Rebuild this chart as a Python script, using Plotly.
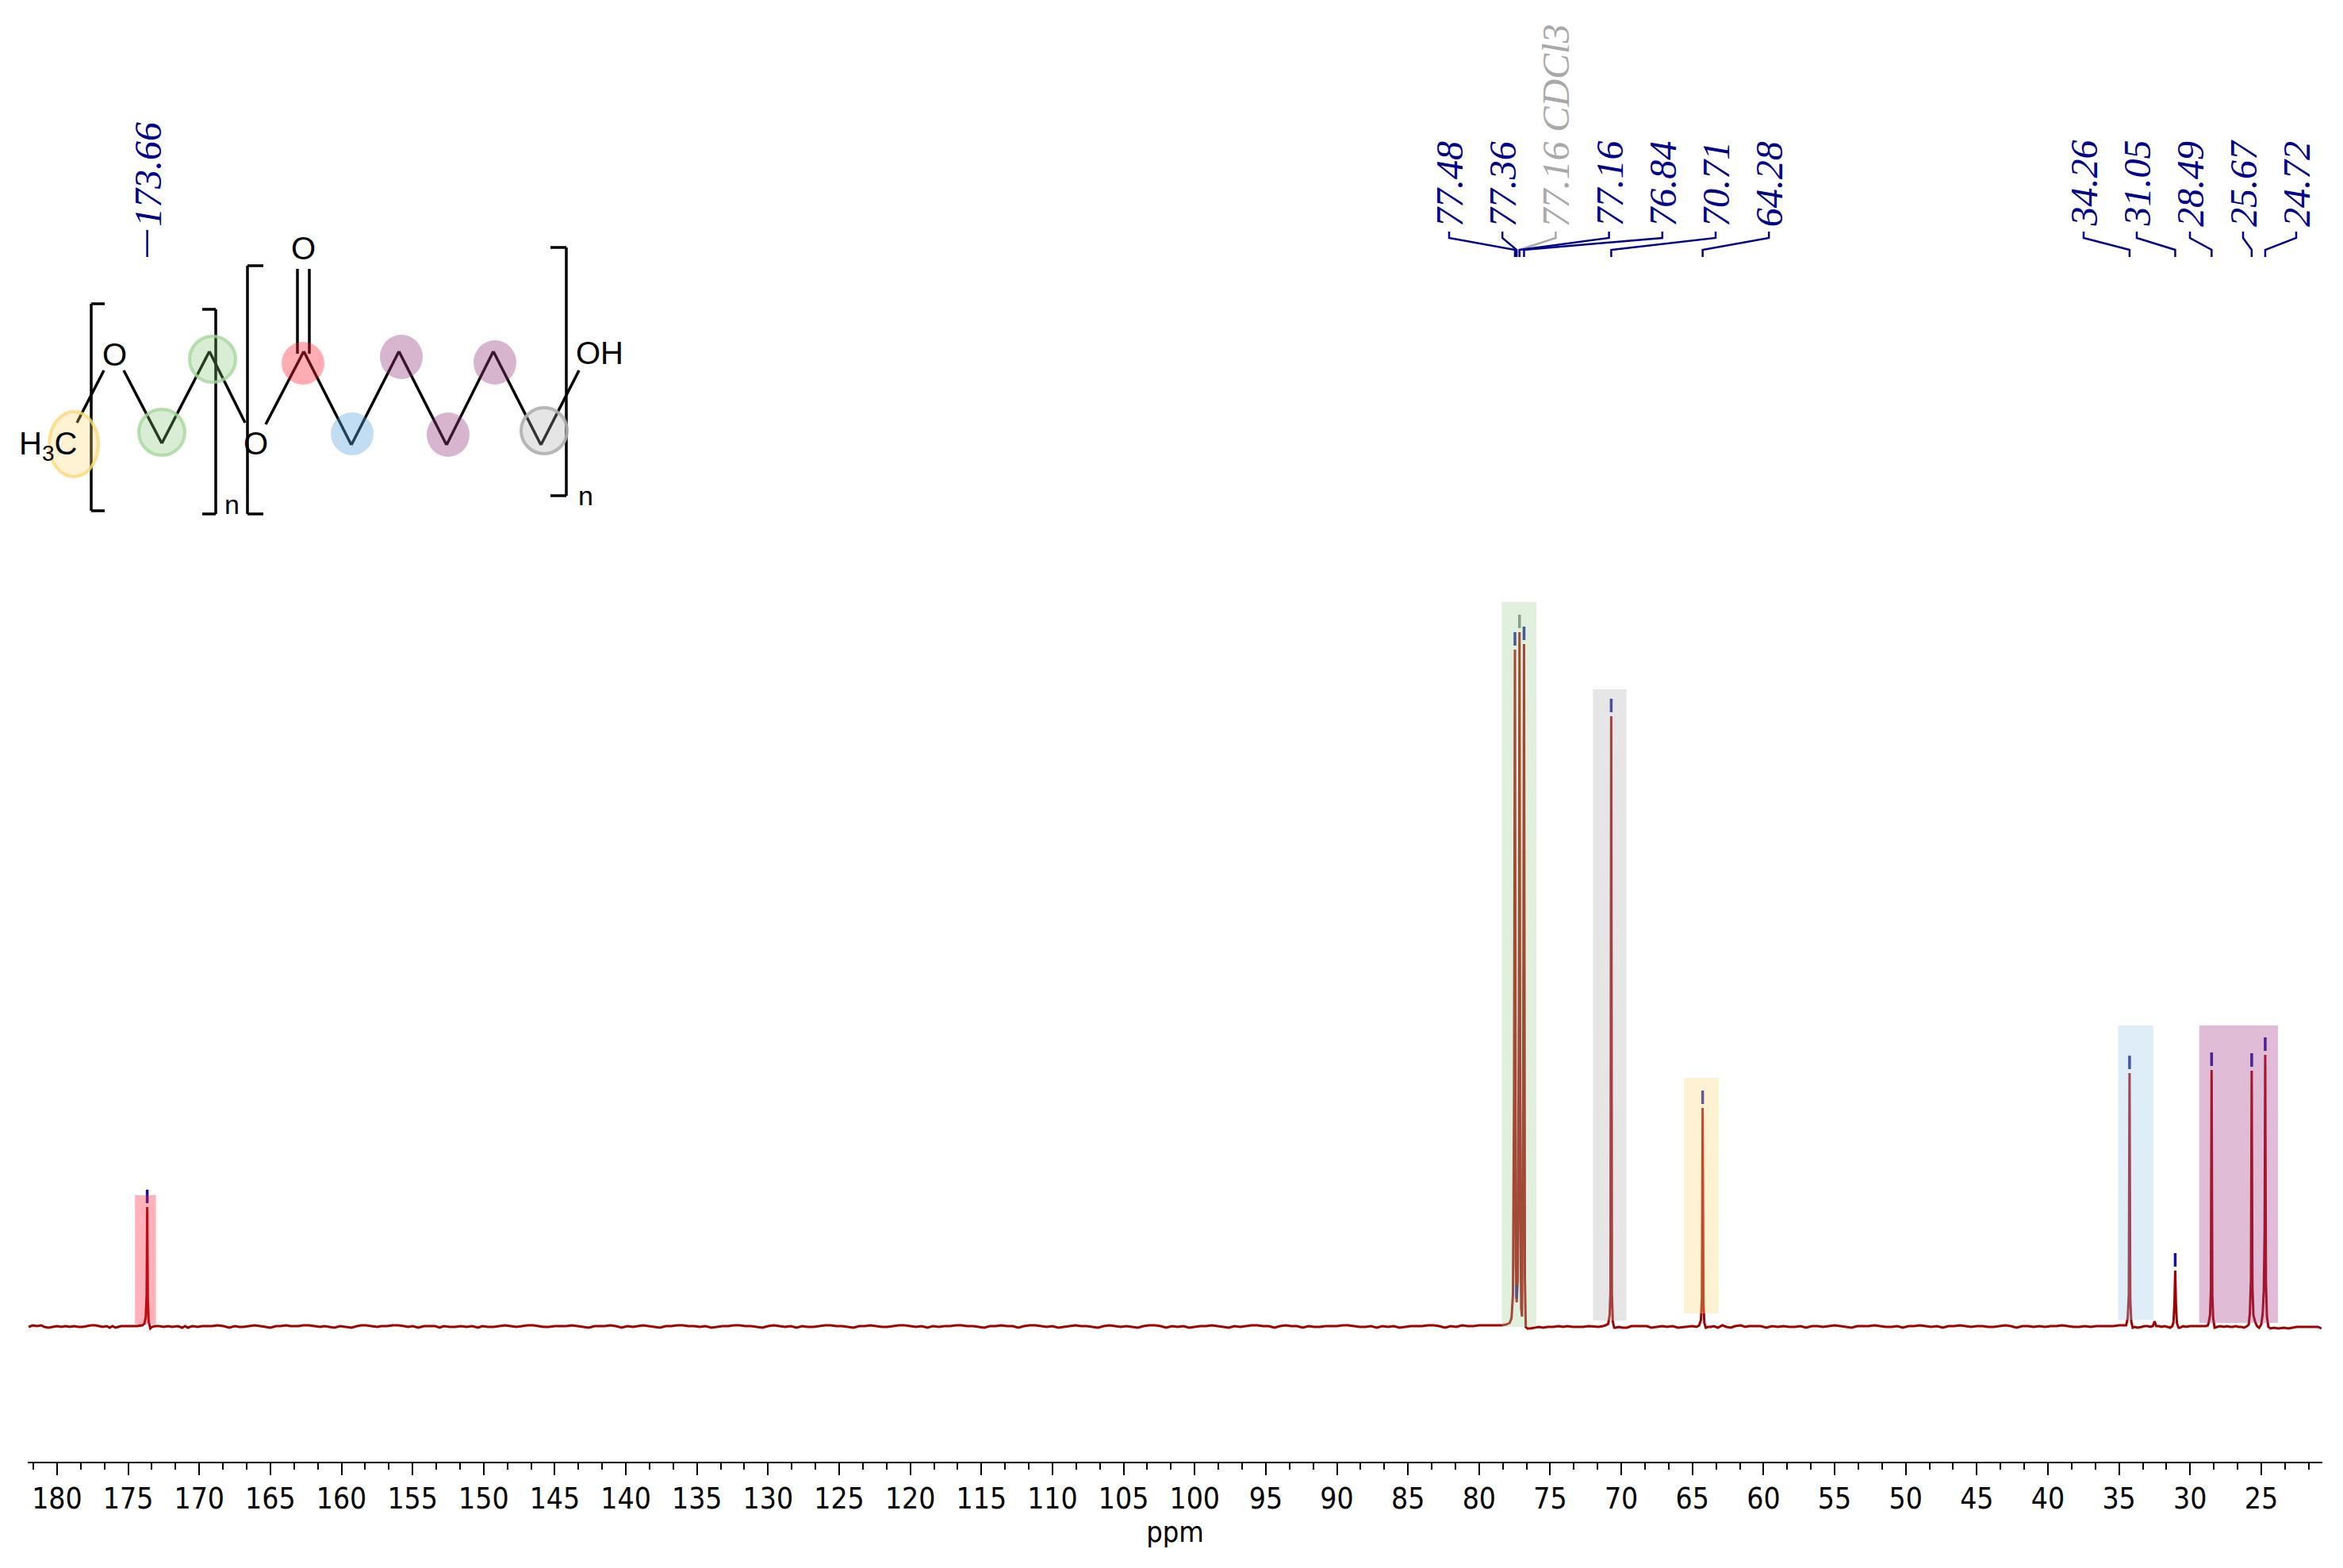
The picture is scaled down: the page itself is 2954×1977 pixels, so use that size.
import plotly.graph_objects as go

# spectrum pieces, ppm and intensity (1 unit = 1 px of the original)
base_a_ppm = [182.0, 181.7, 181.4, 181.1, 180.9, 180.6, 180.3, 180.0, 179.7, 179.4, 179.1, 178.8, 178.5, 178.2,
              177.9, 177.6, 177.3, 177.0, 176.8, 176.5, 176.3, 176.1, 175.9, 175.7, 175.5, 174.4, 174.0]
base_a_int = [-1, 1, 0, 1, -1, -2, -1, 0, -1, 0, -1, 0, -1, -1, 0, 1, 1, 0, -1, 0, -2, 0, -2, -1, 0, 0, 1]

peak_174_ppm = [173.86, 173.76, 173.70, 173.66, 173.62, 173.56, 173.44, 173.32]
peak_174_int = [3, 12, 40, 150, 35, 6, -3, -1]

base_b_ppm = [173.1, 172.8, 172.5, 172.2, 171.9, 171.5, 171.2, 171.0, 170.8, 170.5, 170.1, 169.8, 169.4, 169.1,
              168.7, 168.3, 167.9, 167.5, 167.2, 166.9, 166.5, 166.1, 165.7, 165.3, 165.0, 164.6, 164.3, 163.9,
              163.6, 163.3, 163.0, 162.7, 162.3, 161.9, 161.5, 161.2, 160.8, 160.5, 160.1, 159.7, 159.3, 158.9,
              158.6, 158.3, 157.9, 157.5, 157.2, 156.8, 156.4, 156.0, 155.6, 155.3, 155.0, 154.6, 154.2, 153.8,
              153.4, 153.1, 152.8, 152.4, 152.0, 151.6, 151.2, 150.8, 150.4, 150.1, 149.7, 149.3, 148.9, 148.5,
              148.1, 147.7, 147.3, 146.9, 146.5, 146.2, 145.8, 145.4, 145.0, 144.6, 144.2, 143.8, 143.4, 143.0,
              142.6, 142.2, 141.9, 141.5, 141.1, 140.7, 140.3, 139.9, 139.5, 139.2, 138.8, 138.4, 138.0, 137.6,
              137.2, 136.8, 136.4, 136.0, 135.6, 135.2, 134.8, 134.4, 134.0, 133.6, 133.2, 132.8, 132.4, 132.0,
              131.6, 131.2, 130.8, 130.4, 130.0, 129.6, 129.2, 128.8, 128.4, 128.0, 127.6, 127.2, 126.8, 126.4,
              126.0, 125.6, 125.2, 124.8, 124.4, 124.0, 123.6, 123.2, 122.8, 122.4, 122.0, 121.6, 121.2, 120.8,
              120.4, 120.0, 119.6, 119.2, 118.8, 118.4, 118.0, 117.6, 117.2, 116.8, 116.4, 116.0, 115.6, 115.2,
              114.8, 114.4, 114.0, 113.6, 113.2, 112.8, 112.4, 112.0, 111.6, 111.2, 110.8, 110.4, 110.0, 109.6,
              109.2, 108.8, 108.4, 108.0, 107.6, 107.2, 106.8, 106.4, 106.0, 105.6, 105.2, 104.8, 104.4, 104.0,
              103.6, 103.2, 102.8, 102.4, 102.0, 101.6, 101.2, 100.8, 100.4, 100.0, 99.6, 99.2, 98.8, 98.4,
              98.0, 97.6, 97.2, 96.8, 96.4, 96.0, 95.6, 95.2, 94.8, 94.4, 94.0, 93.6, 93.2, 92.8, 92.4, 92.0,
              91.6, 91.2, 90.8, 90.4, 90.0, 89.6, 89.2, 88.8, 88.4, 88.0, 87.6, 87.2, 86.8, 86.4, 86.0, 85.6,
              85.2, 84.8, 84.4, 84.0, 83.6, 83.2, 82.8, 82.4, 82.0, 81.6, 81.2, 80.8, 80.4, 80.0, 79.6, 79.2]
base_b_int = [0, 0, -1, 0, -1, 0, -2, 0, -2, 0, -1, 0, 0, 0, 1, 0, -2, 0, -1, -1, 0, 1, 0, -1, -2, 0, 0, 1,
              0, 0, 0, 1, 1, 0, -1, 0, -1, -2, 0, -1, -2, 0, 1, 1, 0, -1, 0, 0, 1, 1, 0, -1, 0, -2, 0, 0,
              0, -2, 0, -1, -1, 0, -1, 0, -2, 0, -1, -1, 0, 1, 0, -1, 0, 1, 1, 0, -1, -1, 0, 0, 0, 1, 0, -1,
              -2, 0, 0, 0, 1, 0, -2, 0, -1, 0, 1, 0, -1, -2, 0, 0, 1, 1, 0, 0, -1, 0, -2, -1, 0, 0, 1, 1,
              0, 0, -1, -2, 0, 1, 0, -1, 0, -2, 0, -1, -1, 0, 1, 1, 0, 0, -1, -2, 0, 0, 1, 0, -1, -1, 0, 1,
              1, 0, -1, 0, -2, 0, -1, 0, 0, 1, 1, 0, 0, -1, -2, 0, 0, 1, 0, 0, -2, 0, 1, 1, 0, -1, 0, -2,
              -1, 0, 1, 0, 0, -1, -2, 0, 1, 0, -1, 0, -1, -2, 0, 1, 1, 0, -2, 0, -1, 0, -2, -1, 0, 0, 1, 0,
              -1, -2, 0, -1, 0, 1, 1, 0, 0, -2, 0, 1, 0, 0, -2, 0, -1, -1, 0, 0, 0, 1, 1, 0, -1, -1, 0, -2,
              0, -1, 0, -2, -1, 0, 0, 0, 1, 1, 0, -2, 0, -1, 1, 0, 0, 1, 1, 1]

peak_77_ppm = [78.4, 78.1, 77.85, 77.72, 77.62, 77.54, 77.48, 77.42, 77.36, 77.28, 77.20, 77.16, 77.10, 77.04,
               76.98, 76.90, 76.84, 76.78, 76.72, 76.6, 76.4, 76.1]
peak_77_int = [1, 2, 4, 10, 40, 300, 853, 80, 30, 60, 400, 875, 150, 22, 12, 300, 860, 60, -1, -3, -3, -2]

base_c_ppm = [75.8, 75.5, 75.2, 74.8, 74.4, 74.1, 73.8, 73.4, 73.0, 72.7, 72.3, 71.9, 71.6, 71.3, 71.1]
base_c_int = [-1, -2, -1, -1, 0, -1, 0, -1, -1, -1, 0, -1, -1, 0, 1]

peak_71_ppm = [70.92, 70.82, 70.76, 70.71, 70.66, 70.60, 70.50, 70.40]
peak_71_int = [3, 14, 45, 769, 40, 6, -2, -2]

base_d_ppm = [70.2, 69.9, 69.6, 69.3, 69.0, 68.6, 68.2, 67.9, 67.5, 67.1, 66.8, 66.4, 66.0, 65.6, 65.3, 65.0, 64.7]
base_d_int = [-1, -2, -2, 0, 0, 0, 0, -2, -1, 0, -1, 0, -2, -1, 0, 0, -1]

peak_64_ppm = [64.52, 64.40, 64.33, 64.28, 64.23, 64.16, 64.06, 63.9]
peak_64_int = [1, 8, 35, 275, 30, 4, -2, -1]

base_e_ppm = [63.7, 63.5, 63.2, 62.9, 62.6, 62.3, 62.0, 61.6, 61.3, 61.0, 60.6, 60.2, 59.8, 59.4, 59.0, 58.6, 58.2,
              57.8, 57.4, 57.0, 56.6, 56.2, 55.8, 55.4, 55.0, 54.6, 54.2, 53.8, 53.4, 53.0, 52.6, 52.2, 51.8, 51.4,
              51.0, 50.6, 50.2, 49.8, 49.4, 49.0, 48.6, 48.2, 47.8, 47.4, 47.0, 46.6, 46.2, 45.8, 45.4, 45.0, 44.6,
              44.2, 43.8, 43.4, 43.0, 42.6, 42.2, 41.8, 41.4, 41.0, 40.6, 40.2, 39.8, 39.4, 39.0, 38.6, 38.2, 37.8,
              37.4, 37.0, 36.6, 36.2, 35.8, 35.4, 35.0, 34.7]
base_e_int = [-1, 0, -2, 1, -1, -2, 0, 1, -1, 0, 0, 0, -2, 0, -1, 0, -1, -1, 0, -2, 0, 0, -1, 0, 1, 0, -1, -2, 0, 0,
              0, 1, 0, -1, -1, 0, -2, 0, 0, 1, 0, -1, 0, -2, 0, 0, 1, 0, -1, 0, 0, -1, -1, 0, 1, 0, -2, 0, 0, -1, 0,
              -1, 0, 0, 1, 0, -1, -1, 0, -1, 0, 0, 0, 0, 1, 1]

peak_34_ppm = [34.50, 34.39, 34.31, 34.26, 34.21, 34.14, 34.04]
peak_34_int = [1, 10, 40, 319, 35, 6, -2]

base_f_ppm = [33.9, 33.7, 33.4, 33.2, 33.0, 32.8, 32.62, 32.5, 32.38, 32.2, 32.0, 31.8, 31.6, 31.4, 31.25]
base_f_int = [-1, -2, -1, 0, 0, -1, 0, 6, 0, 0, -1, 0, -1, -2, 0]

peak_31_ppm = [31.17, 31.10, 31.05, 31.00, 30.93, 30.82]
peak_31_int = [5, 30, 70, 28, 4, -2]

base_g_ppm = [30.7, 30.5, 30.3, 30.0, 29.7, 29.4, 29.1, 28.9, 28.75]
base_g_int = [-2, 0, -1, 0, 0, 0, 0, 0, 1]

peak_28_ppm = [28.70, 28.60, 28.54, 28.49, 28.44, 28.38, 28.28]
peak_28_int = [4, 14, 45, 323, 40, 10, -2]

base_h_ppm = [28.1, 27.9, 27.6, 27.4, 27.2, 27.0, 26.8, 26.6, 26.4, 26.2, 26.0, 25.88]
base_h_int = [-1, 0, -1, 0, -1, -1, 0, -1, -1, -2, 0, 2]

peak_25_ppm = [25.80, 25.72, 25.67, 25.62, 25.55, 25.44, 25.3, 25.15, 25.0, 24.9, 24.82, 24.76, 24.72, 24.67,
               24.60, 24.50, 24.35]
peak_25_int = [16, 60, 322, 50, 14, 6, 0, -2, 2, 15, 45, 120, 342, 55, 12, -1, -3]

base_i_ppm = [24.1, 23.8, 23.4, 23.1, 22.8, 22.5, 22.1, 21.7, 21.3, 21.0, 20.77]
base_i_int = [-2, -3, -2, -3, -2, -1, -1, -1, -1, -1, -3]

# assigned peaks with their printed labels
peak_ppm = [173.66, 77.48, 77.36, 76.84, 70.71, 64.28, 34.26, 31.05, 28.49, 25.67, 24.72]
peak_top = [150, 853, 30, 860, 769, 275, 319, 70, 323, 322, 342]
solvent_ppm = 77.16
solvent_top = 875

group_1_labels = ["77.48", "77.36", "77.16 CDCl3", "77.16", "76.84", "70.71", "64.28"]
group_1_ppm = [77.48, 77.36, 77.16, 77.16, 76.84, 70.71, 64.28]
group_2_labels = ["34.26", "31.05", "28.49", "25.67", "24.72"]
group_2_ppm = [34.26, 31.05, 28.49, 25.67, 24.72]

# coloured assignment bands, ppm edges and heights
band_left = [174.52, 78.40, 72.00, 65.60, 35.06, 29.36]
band_right = [173.05, 75.97, 69.64, 63.15, 32.59, 23.82]
band_top = [165, 913, 803, 313, 379, 379]
band_bottom = [2, -1, 7, 16, 8, 4]
band_colors = ['rgba(255,35,58,0.35)', 'rgba(166,213,155,0.35)', 'rgba(184,184,184,0.35)',
               'rgba(255,218,126,0.35)', 'rgba(161,203,235,0.35)', 'rgba(166,64,138,0.35)']

W, H = 2954, 1977
LEFT, RIGHT, AXIS_Y, BASE_Y = 35, 2928, 1843, 1672
NAVY = '#00008b'
GREY = '#a9a9a9'


def paper_x(px):
    return (px - LEFT) / (RIGHT - LEFT)


def paper_y(py):
    return 1 - py / AXIS_Y


def ppm_at(px):
    return 182.06 - (px - LEFT) * (182.06 - 20.7) / (RIGHT - LEFT)


spectrum_x = (base_a_ppm + peak_174_ppm + base_b_ppm + peak_77_ppm + base_c_ppm + peak_71_ppm + base_d_ppm
              + peak_64_ppm + base_e_ppm + peak_34_ppm + base_f_ppm + peak_31_ppm + base_g_ppm + peak_28_ppm
              + base_h_ppm + peak_25_ppm + base_i_ppm)
spectrum_y = (base_a_int + peak_174_int + base_b_int + peak_77_int + base_c_int + peak_71_int + base_d_int
              + peak_64_int + base_e_int + peak_34_int + base_f_int + peak_31_int + base_g_int + peak_28_int
              + base_h_int + peak_25_int + base_i_int)

fig = go.Figure()
fig.add_trace(go.Scatter(x=spectrum_x, y=spectrum_y, mode='lines', line=dict(color='#a00000', width=3),
                         hoverinfo='skip'))

# little picking ticks above each peak
tick_x, tick_y = [], []
for p, top in zip(peak_ppm, peak_top):
    tick_x += [p, p, None]
    tick_y += [top + 5, top + 22, None]
fig.add_trace(go.Scatter(x=tick_x, y=tick_y, mode='lines', line=dict(color='#14149a', width=3.5), hoverinfo='skip'))
fig.add_trace(go.Scatter(x=[solvent_ppm, solvent_ppm], y=[solvent_top + 5, solvent_top + 22], mode='lines',
                         line=dict(color='#808080', width=3.5), hoverinfo='skip'))


def add_label(text, px, color=NAVY):
    fig.add_annotation(text=text, xref='paper', yref='paper', x=paper_x(px), y=paper_y(287), textangle=-90,
                       xanchor='center', yanchor='bottom', showarrow=False, borderpad=0,
                       font=dict(family='Liberation Serif', size=48, color=color, style='italic'))


def add_leader(px, p, color=NAVY):
    # stub under the label, slanted run, stub down to the peak position
    fig.add_trace(go.Scatter(x=[ppm_at(px), ppm_at(px), p, p],
                             y=[BASE_Y - 292, BASE_Y - 300, BASE_Y - 315, BASE_Y - 324],
                             mode='lines', line=dict(color=color, width=2.5), hoverinfo='skip'))


for i, (label, p) in enumerate(zip(group_1_labels, group_1_ppm)):
    px = 1827 + i * 67.2
    color = GREY if 'CDCl3' in label else NAVY
    add_leader(px, p, color)
    add_label(label, px, color)

for i, (label, p) in enumerate(zip(group_2_labels, group_2_ppm)):
    px = 2627 + i * 67
    add_leader(px, p)
    add_label(label, px)

add_label("173.66", 186)
fig.add_trace(go.Scatter(x=[173.66, 173.66], y=[BASE_Y - 290, BASE_Y - 324], mode='lines',
                         line=dict(color=NAVY, width=2.5), hoverinfo='skip'))

for x0, x1, y0, y1, c in zip(band_left, band_right, band_bottom, band_top, band_colors):
    fig.add_shape(type='rect', xref='x', yref='y', x0=x0, x1=x1, y0=y0, y1=y1, fillcolor=c, line_width=0)


# structure drawing in the top left, positions in px of the reference
def mol_line(x0, y0, x1, y1, width=3.5):
    fig.add_shape(type='line', xref='paper', yref='paper', x0=paper_x(x0), y0=paper_y(y0), x1=paper_x(x1),
                  y1=paper_y(y1), line=dict(color='black', width=width))


def mol_bracket(x, y0, y1, tip):
    mol_line(x + tip, y0, x, y0)
    mol_line(x, y0, x, y1)
    mol_line(x, y1, x + tip, y1)


def mol_text(text, x, y, size=40):
    fig.add_annotation(text=text, xref='paper', yref='paper', x=paper_x(x), y=paper_y(y), showarrow=False,
                       xanchor='center', yanchor='middle', borderpad=0,
                       font=dict(family='Liberation Sans', size=size, color='black'))


def mol_circle(x, y, rx, ry, fill, edge=None):
    fig.add_shape(type='circle', xref='paper', yref='paper', x0=paper_x(x - rx), x1=paper_x(x + rx),
                  y0=paper_y(y + ry), y1=paper_y(y - ry), fillcolor=fill,
                  line=dict(color=edge or 'rgba(0,0,0,0)', width=4))


bonds = [(97, 533, 131, 467), (156, 467, 204, 559), (204, 559, 264, 443), (264, 443, 309, 533),
         (335, 535, 383, 443), (383, 443, 443, 561), (443, 561, 503, 443), (503, 443, 563, 561),
         (563, 561, 622, 443), (622, 443, 682, 561), (682, 561, 730, 467),
         (375, 339, 375, 446), (390, 339, 390, 446)]
for b in bonds:
    mol_line(*b)
mol_bracket(115, 383, 644, 17)
mol_bracket(272, 390, 648, -17)
mol_bracket(312, 335, 648, 20)
mol_bracket(714, 312, 625, -20)

mol_text("O", 382, 313)
mol_text("O", 144, 447)
mol_text("O", 322, 559)
mol_text("OH", 756, 445)
mol_text("H<sub>3</sub>C", 60, 562)
mol_text("n", 292, 636, 34)
mol_text("n", 738, 625, 34)

mol_circle(93, 560, 31, 41, 'rgba(255,215,110,0.3)', 'rgba(255,215,120,0.8)')
mol_circle(204, 545, 29, 29, 'rgba(125,195,110,0.3)', 'rgba(165,215,155,0.8)')
mol_circle(268, 453, 29, 29, 'rgba(125,195,110,0.3)', 'rgba(165,215,155,0.8)')
mol_circle(382, 458, 27, 27, 'rgba(255,40,55,0.38)')
mol_circle(444, 547, 27, 27, 'rgba(90,165,225,0.38)')
mol_circle(506, 450, 27, 28, 'rgba(150,60,130,0.38)')
mol_circle(565, 548, 27, 28, 'rgba(150,60,130,0.38)')
mol_circle(624, 457, 27, 28, 'rgba(150,60,130,0.38)')
mol_circle(686, 543, 29, 29, 'rgba(170,170,170,0.3)', 'rgba(175,175,175,0.9)')

fig.update_layout(
    width=W,
    height=H,
    margin=dict(l=LEFT, r=W - RIGHT, t=0, b=H - AXIS_Y, autoexpand=False),
    paper_bgcolor='white',
    plot_bgcolor='white',
    showlegend=False,
    font=dict(family='DejaVu Sans Condensed', color='black'),
    xaxis=dict(
        range=[182.06, 20.7],
        tickmode='linear',
        tick0=0,
        dtick=5,
        ticks='outside',
        ticklen=15,
        tickwidth=2,
        tickcolor='black',
        tickfont=dict(size=37),
        ticklabelstandoff=-2,
        minor=dict(dtick=5 / 3, tick0=0, ticks='outside', ticklen=8, tickwidth=2, tickcolor='black'),
        showline=True,
        linecolor='black',
        linewidth=2,
        showgrid=False,
        zeroline=False,
        title=dict(text='ppm', font=dict(size=36), standoff=7),
    ),
    yaxis=dict(range=[BASE_Y - AXIS_Y, BASE_Y], visible=False),
)

fig.write_html("out.html", config={'displayModeBar': False}, post_script="document.body.style.margin = '0';")
